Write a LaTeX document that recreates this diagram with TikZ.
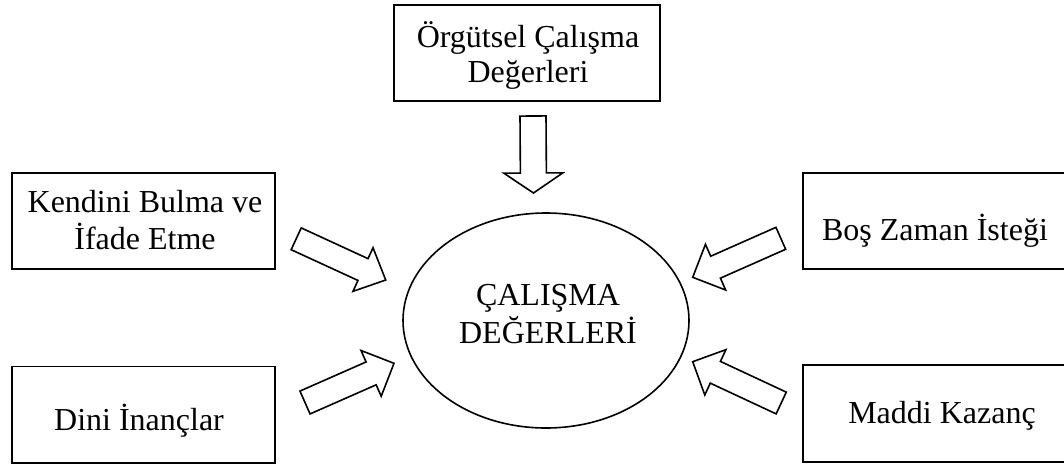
\documentclass[tikz,border=0pt]{standalone}
\usepackage{fontspec}
\setmainfont{Liberation Serif}
\usetikzlibrary{calc,shapes.geometric}
\newcommand\twolines[3]{{\fontsize{32}{#3}\selectfont\begin{tabular}[t]{@{}c@{}}#1\\#2\end{tabular}}}
\newcommand\blockarrow[5]{%
  \coordinate (tmpH) at ($(#2)!#5!(#1)$);
  \draw[blk] ($(#1)!#3!90:(#2)$) -- ($(tmpH)!#3!90:(#2)$) -- ($(tmpH)!#4!90:(#2)$) -- (#2)
    -- ($(tmpH)!#4!-90:(#2)$) -- ($(tmpH)!#3!-90:(#2)$) -- ($(#1)!#3!-90:(#2)$) -- cycle;}
\begin{document}
\begin{tikzpicture}[x=1pt,y=-1pt,
  box/.style={draw,line width=1.5pt,inner sep=0pt,rectangle},
  lbl/.style={anchor=base,inner sep=0pt,font=\fontsize{32}{37}\selectfont},
  blk/.style={draw,line width=1.6pt,fill=white,line join=miter}]
\useasboundingbox (0,0) rectangle (1064,464);
% boxes
\node[box,minimum width=266pt,minimum height=96pt] (org) at (527,53) {};
\node[box,minimum width=263pt,minimum height=96pt] (kend) at (143.5,221) {};
\node[box,minimum width=263pt,minimum height=96.5pt] (dini) at (143.5,414.5) {};
\node[box,minimum width=267pt,minimum height=96pt] (bos) at (936.5,221) {};
\node[box,minimum width=267pt,minimum height=97pt] (maddi) at (936.5,413.5) {};
\node[draw,ellipse,line width=1.6pt,minimum width=286pt,minimum height=215pt,inner sep=0pt] (cal) at (546,320.5) {};
% texts
\node[lbl] (orgt) at (528,47) {\twolines{Örgütsel Çalışma}{Değerleri}{35}};
\node[lbl] (kendt) at (145,212) {\twolines{Kendini Bulma ve}{İfade Etme}{37}};
\node[lbl] (bost) at (935,240) {Boş Zaman İsteği};
\node[lbl] (dinit) at (139,430) {Dini İnançlar};
\node[lbl] (maddit) at (942,423) {Maddi Kazanç};
\node[lbl] (calt) at (548,305) {\twolines{ÇALIŞMA}{DEĞERLERİ}{37}};
% arrows
\coordinate (a1t) at (533,116); \coordinate (a1h) at (533.5,193);
\coordinate (a2t) at (296.2,238.8); \coordinate (a2h) at (385.7,280);
\coordinate (a3t) at (305,402.5); \coordinate (a3h) at (394,363.3);
\coordinate (a4t) at (780.8,238.3); \coordinate (a4h) at (692.7,277.3);
\coordinate (a5t) at (781.2,403); \coordinate (a5h) at (692.7,361.7);
\blockarrow{a1t}{a1h}{13pt}{29.5pt}{20pt}
\blockarrow{a2t}{a2h}{12pt}{24pt}{25pt}
\blockarrow{a3t}{a3h}{12.5pt}{25pt}{25pt}
\blockarrow{a4t}{a4h}{12pt}{25pt}{25pt}
\blockarrow{a5t}{a5h}{12pt}{25pt}{25pt}
\end{tikzpicture}
\end{document}
